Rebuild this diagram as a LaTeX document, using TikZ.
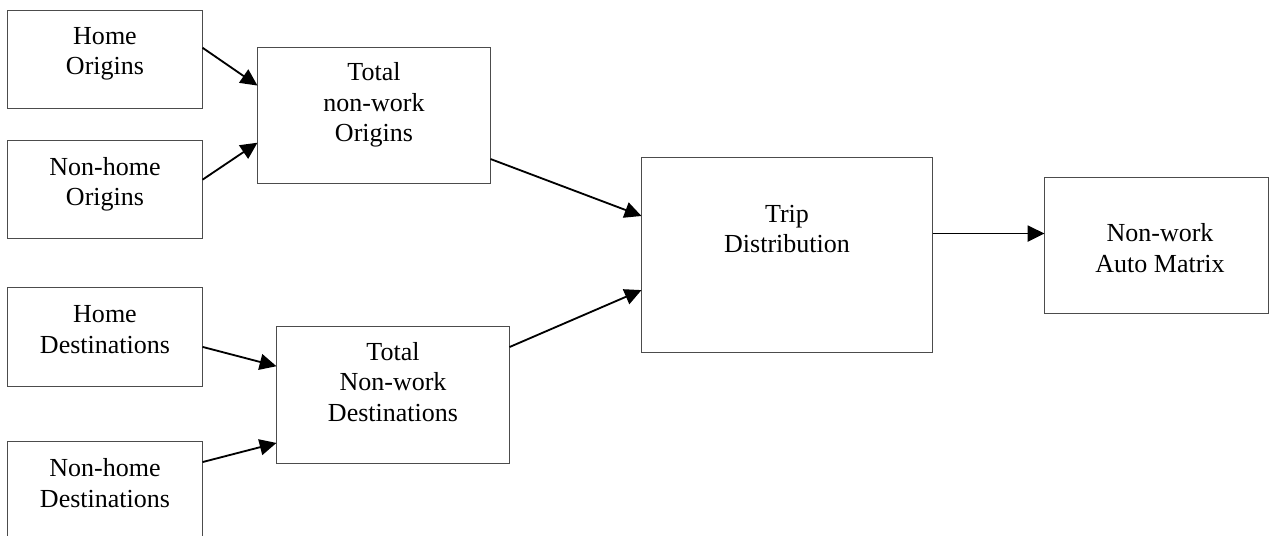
\documentclass[tikz,border=0pt]{standalone}
\usepackage{fontspec}
\setmainfont{Liberation Serif}
\usetikzlibrary{arrows.meta,%
		calc}

\tikzset{scatola/.style={draw=black!70, line width=0.7pt, rectangle, inner sep=0pt},
	testo/.style={align=center, inner sep=0pt, font=\fontsize{18.5}{21.5}\selectfont},
	freccia/.style={line width=1.3pt, -{Triangle[length=0.42cm,width=0.4cm]}}}

\begin{document}
\begin{tikzpicture}[x=0.025cm,y=-0.025cm]
%Trip distribution non-work
\clip (0,0) rectangle (1269,536);
\node[scatola, minimum width=4.85cm, minimum height=2.425cm] (ho) at (105,59.5) {};
\node[scatola, minimum width=4.85cm, minimum height=2.425cm] (nho) at (105,189.5) {};
\node[scatola, minimum width=4.85cm, minimum height=2.45cm] (hd) at (105,337) {};
\node[scatola, minimum width=4.85cm, minimum height=2.425cm] (nhd) at (105,490.5) {};
\node[scatola, minimum width=5.8cm, minimum height=3.375cm] (tno) at (374,115.5) {};
\node[scatola, minimum width=5.8cm, minimum height=3.4cm] (tnd) at (393,395) {};
\node[scatola, minimum width=7.25cm, minimum height=4.85cm] (trip) at (787,255) {};
\node[scatola, minimum width=5.575cm, minimum height=3.375cm] (am) at (1156.5,245.5) {};
\node[testo] (ho-t) at (105,54) {Home\\Origins};
\node[testo] (nho-t) at (105,184) {Non-home\\Origins};
\node[testo] (hd-t) at (105,329.5) {Home\\Destinations};
\node[testo] (nhd-t) at (105,483) {Non-home\\Destinations};
\node[testo] (tno-t) at (374,105) {Total\\non-work\\Origins};
\node[testo] (tnd-t) at (393,382) {Total\\Non-work\\Destinations};
\node[testo] (trip-t) at (787,229) {Trip\\Distribution};
\node[testo] (am-t) at (1160,248) {Non-work\\Auto Matrix};
\coordinate (trip-out) at ($(trip.north east)!0.39!(trip.south east)$);
\draw[freccia] ($(ho.north east)!0.38!(ho.south east)$) -- ($(tno.north west)!0.28!(tno.south west)$);
\draw[freccia] ($(nho.north east)!0.40!(nho.south east)$) -- ($(tno.north west)!0.70!(tno.south west)$);
\draw[freccia] ($(hd.north east)!0.60!(hd.south east)$) -- ($(tnd.north west)!0.29!(tnd.south west)$);
\draw[freccia] ($(nhd.north east)!0.21!(nhd.south east)$) -- ($(tnd.north west)!0.85!(tnd.south west)$);
\draw[freccia] ($(tno.north east)!0.82!(tno.south east)$) -- ($(trip.north west)!0.30!(trip.south west)$);
\draw[freccia] ($(tnd.north east)!0.15!(tnd.south east)$) -- ($(trip.north west)!0.68!(trip.south west)$);
\draw[freccia] (trip-out) -- (trip-out -| am.west);
\end{tikzpicture}
\end{document}
